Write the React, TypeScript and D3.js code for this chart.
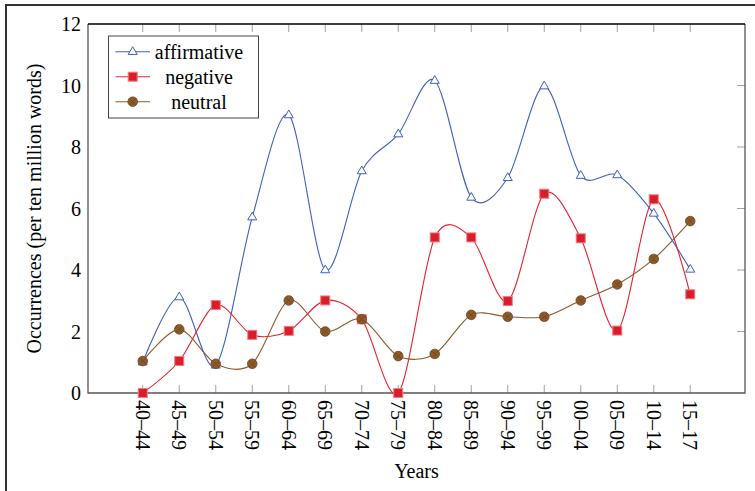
import React, { useEffect, useRef } from "react";
import * as d3 from "d3";

// data
const categories = [
  "40–44", "45–49", "50–54", "55–59", "60–64", "65–69", "70–74", "75–79",
  "80–84", "85–89", "90–94", "95–99", "00–04", "05–09", "10–14", "15–17",
];
const affirmative = [1.0, 3.12, 0.9, 5.72, 9.04, 4.0, 7.22, 8.42, 10.16, 6.36, 7.0, 9.98, 7.07, 7.09, 5.84, 4.02];
const negative = [0, 1.04, 2.86, 1.89, 2.02, 3.01, 2.4, 0, 5.06, 5.06, 2.99, 6.48, 5.03, 2.03, 6.3, 3.21];
const neutral = [1.04, 2.07, 0.95, 0.95, 3.01, 2.0, 2.4, 1.2, 1.27, 2.54, 2.48, 2.48, 3.01, 3.53, 4.36, 5.59];
const yTicks = [0, 2, 4, 6, 8, 10, 12];

const seriesList = [
  { name: "affirmative", values: affirmative, color: "#3f5fbf", mark: "triangle" },
  { name: "negative", values: negative, color: "#e8222e", mark: "square" },
  { name: "neutral", values: neutral, color: "#8b5a2b", mark: "circle" },
];

const Chart = () => {
  const ref = useRef<SVGSVGElement>(null);

  useEffect(() => {
    const width = 755;
    const height = 491;
    const margin = { top: 24, left: 88, bottom: 98, right: 10 };
    const font = "'Liberation Serif', 'Times New Roman', serif";

    const svg = d3.select(ref.current);
    svg.selectAll("*").remove();
    svg.attr("width", width).attr("height", height);

    // outer frame (cut off at right and bottom)
    svg
      .append("rect")
      .attr("x", 6)
      .attr("y", 5)
      .attr("width", 760)
      .attr("height", 500)
      .attr("fill", "none")
      .attr("stroke", "#333")
      .attr("stroke-width", 2);

    const x = d3
      .scalePoint<string>()
      .domain(categories)
      .range([margin.left, width - margin.right])
      .padding(1.5);

    const y = d3
      .scaleLinear()
      .domain([0, 12])
      .range([height - margin.bottom, margin.top]);

    const x0 = margin.left;
    const x1 = width - margin.right;
    const y0 = height - margin.bottom;
    const y1 = margin.top;

    // ticks (top, bottom, right)
    const ticks = svg.append("g").attr("stroke", "#a0a0a0").attr("stroke-width", 1);
    categories.forEach((c) => {
      ticks.append("line").attr("x1", x(c)).attr("x2", x(c)).attr("y1", y1).attr("y2", y1 + 8);
      ticks.append("line").attr("x1", x(c)).attr("x2", x(c)).attr("y1", y0).attr("y2", y0 - 8);
    });
    yTicks.slice(1, -1).forEach((t) => {
      ticks.append("line").attr("x1", x1).attr("x2", x1 - 8).attr("y1", y(t)).attr("y2", y(t));
    });

    // plot frame
    svg
      .append("path")
      .attr("d", `M${x0},${y1}V${y0}H${x1}V${y1}`)
      .attr("fill", "none")
      .attr("stroke", "#555")
      .attr("stroke-width", 1.3);
    svg
      .append("line")
      .attr("x1", x0)
      .attr("x2", x1)
      .attr("y1", y1)
      .attr("y2", y1)
      .attr("stroke", "#000")
      .attr("stroke-width", 1.3);

    // y tick labels
    svg
      .append("g")
      .selectAll("text")
      .data(yTicks)
      .enter()
      .append("text")
      .attr("x", x0 - 7)
      .attr("y", (d) => y(d))
      .attr("dy", "0.35em")
      .attr("text-anchor", "end")
      .attr("font-family", font)
      .attr("font-size", 20)
      .text((d) => d);

    // x tick labels, rotated
    svg
      .append("g")
      .selectAll("text")
      .data(categories)
      .enter()
      .append("text")
      .attr("transform", (d) => `translate(${x(d)},${y0 + 7}) rotate(90)`)
      .attr("dy", "0.35em")
      .attr("text-anchor", "start")
      .attr("font-family", font)
      .attr("font-size", 20)
      .text((d) => d);

    // axis titles
    svg
      .append("text")
      .attr("x", (x0 + x1) / 2)
      .attr("y", 478)
      .attr("text-anchor", "middle")
      .attr("font-family", font)
      .attr("font-size", 20)
      .text("Years");

    svg
      .append("text")
      .attr("transform", `translate(41,${(y0 + y1) / 2}) rotate(-90)`)
      .attr("text-anchor", "middle")
      .attr("font-family", font)
      .attr("font-size", 20)
      .text("Occurrences (per ten million words)");

    const drawMark = (g: any, mark: string, color: string, cx: number, cy: number) => {
      if (mark === "triangle") {
        const s = 5;
        g.append("path")
          .attr("d", `M${cx},${cy - s}L${cx + s * 0.9},${cy + s * 0.55}L${cx - s * 0.9},${cy + s * 0.55}Z`)
          .attr("fill", "white")
          .attr("stroke", color)
          .attr("stroke-width", 1);
      } else if (mark === "square") {
        g.append("rect")
          .attr("x", cx - 4.5)
          .attr("y", cy - 4.5)
          .attr("width", 9)
          .attr("height", 9)
          .attr("fill", "#d81e2a")
          .attr("stroke", "#f27a80")
          .attr("stroke-width", 1);
      } else {
        const r = 4.8;
        g.append("circle")
          .attr("cx", cx)
          .attr("cy", cy)
          .attr("r", r)
          .attr("fill", "#8e5a28")
          .attr("stroke", "#6b4420")
          .attr("stroke-width", 0.8);
        const d = r * 0.7;
        g.append("path")
          .attr("d", `M${cx - d},${cy - d}L${cx + d},${cy + d}M${cx - d},${cy + d}L${cx + d},${cy - d}`)
          .attr("stroke", "#6b4420")
          .attr("stroke-width", 0.7);
      }
    };

    const line = d3
      .line<number>()
      .x((d, i) => x(categories[i]) as number)
      .y((d) => y(d))
      .curve(d3.curveCardinal.tension(0.1));

    seriesList.forEach((s) => {
      svg
        .append("path")
        .datum(s.values)
        .attr("fill", "none")
        .attr("stroke", s.color)
        .attr("stroke-width", 1.1)
        .attr("d", line);
      const g = svg.append("g");
      s.values.forEach((v, i) => drawMark(g, s.mark, s.color, x(categories[i]) as number, y(v)));
    });

    // legend
    const legend = svg.append("g");
    legend
      .append("rect")
      .attr("x", 108.5)
      .attr("y", 36)
      .attr("width", 150)
      .attr("height", 82)
      .attr("fill", "white")
      .attr("stroke", "#444")
      .attr("stroke-width", 1);

    seriesList.forEach((s, i) => {
      const ly = 51.7 + i * 25;
      legend
        .append("line")
        .attr("x1", 115.5)
        .attr("x2", 150)
        .attr("y1", ly)
        .attr("y2", ly)
        .attr("stroke", s.color)
        .attr("stroke-width", 1.1);
      drawMark(legend, s.mark, s.color, 132.7, ly);
      legend
        .append("text")
        .attr("x", 199)
        .attr("y", ly)
        .attr("dy", "0.35em")
        .attr("text-anchor", "middle")
        .attr("font-family", font)
        .attr("font-size", 20)
        .text(s.name);
    });
  }, []);

  return (
    <svg
      ref={ref}
      style={{ position: "absolute", left: 0, top: 0, display: "block", background: "white" }}
    ></svg>
  );
};

export default function App() {
  return <Chart />;
}
